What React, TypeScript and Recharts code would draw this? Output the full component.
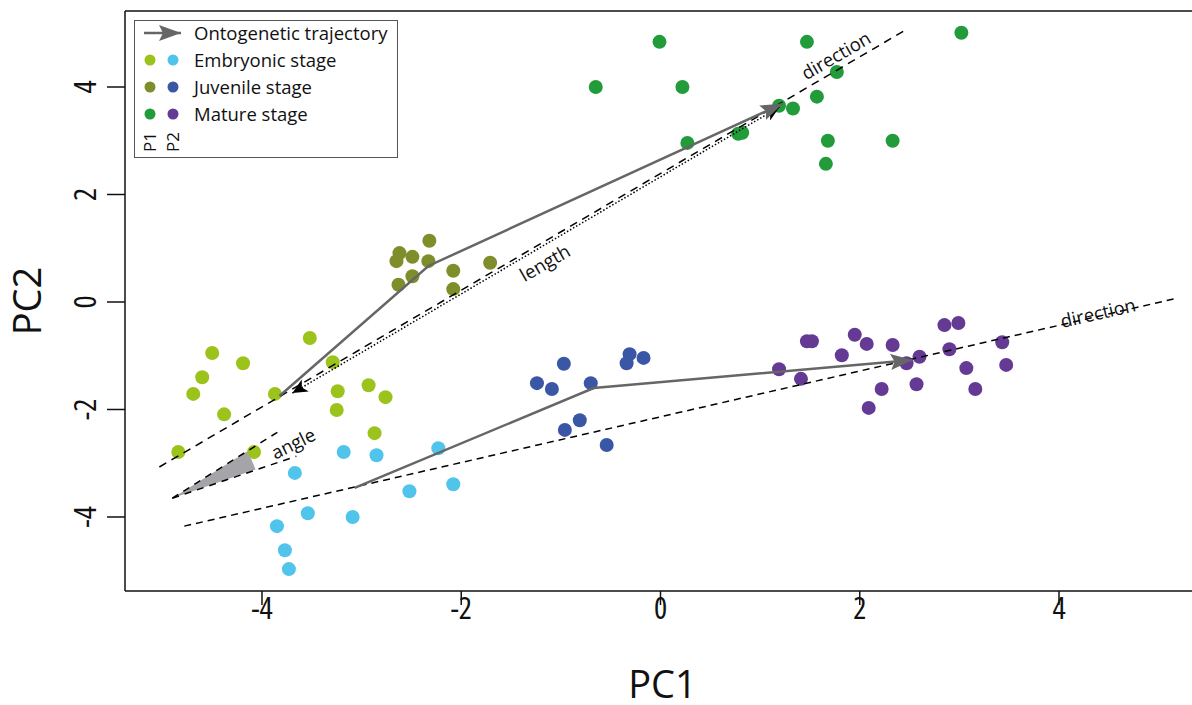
import React from 'react';
import { ScatterChart, Scatter, XAxis, YAxis, ReferenceLine, Legend } from 'recharts';

type Pt = { x: number; y: number };

const X_DOMAIN: [number, number] = [-5.375, 5.335];
const Y_DOMAIN: [number, number] = [-5.377, 5.414];
const X_TICKS = [-4, -2, 0, 2, 4];
const Y_TICKS = [-4, -2, 0, 2, 4];

// population 1
const embryonicP1: Pt[] = [
  { x: -4.50, y: -0.95 }, { x: -4.19, y: -1.14 }, { x: -4.60, y: -1.40 }, { x: -4.69, y: -1.71 },
  { x: -4.38, y: -2.09 }, { x: -4.84, y: -2.79 }, { x: -3.52, y: -0.67 }, { x: -3.29, y: -1.12 },
  { x: -3.87, y: -1.71 }, { x: -3.24, y: -1.66 }, { x: -2.93, y: -1.55 }, { x: -2.76, y: -1.77 },
  { x: -3.25, y: -2.01 }, { x: -2.87, y: -2.44 }, { x: -4.08, y: -2.79 },
];
const juvenileP1: Pt[] = [
  { x: -2.32, y: 1.14 }, { x: -2.62, y: 0.91 }, { x: -2.49, y: 0.84 }, { x: -2.65, y: 0.76 },
  { x: -2.33, y: 0.76 }, { x: -2.08, y: 0.58 }, { x: -1.71, y: 0.73 }, { x: -2.49, y: 0.48 },
  { x: -2.63, y: 0.32 }, { x: -2.08, y: 0.24 },
];
const matureP1: Pt[] = [
  { x: -0.01, y: 4.84 }, { x: 0.22, y: 4.00 }, { x: -0.65, y: 4.00 }, { x: 1.47, y: 4.84 },
  { x: 3.02, y: 5.01 }, { x: 1.77, y: 4.28 }, { x: 1.57, y: 3.82 }, { x: 1.33, y: 3.60 },
  { x: 1.19, y: 3.65 }, { x: 0.27, y: 2.96 }, { x: 0.78, y: 3.13 }, { x: 0.82, y: 3.15 },
  { x: 1.68, y: 3.00 }, { x: 2.33, y: 3.00 }, { x: 1.66, y: 2.57 },
];

// population 2
const embryonicP2: Pt[] = [
  { x: -3.18, y: -2.79 }, { x: -2.85, y: -2.85 }, { x: -2.23, y: -2.72 }, { x: -3.67, y: -3.18 },
  { x: -2.52, y: -3.52 }, { x: -2.08, y: -3.39 }, { x: -3.54, y: -3.93 }, { x: -3.09, y: -4.00 },
  { x: -3.85, y: -4.17 }, { x: -3.77, y: -4.62 }, { x: -3.73, y: -4.97 },
];
const juvenileP2: Pt[] = [
  { x: -0.97, y: -1.15 }, { x: -0.31, y: -0.97 }, { x: -0.17, y: -1.04 }, { x: -0.34, y: -1.14 },
  { x: -1.24, y: -1.51 }, { x: -1.09, y: -1.62 }, { x: -0.70, y: -1.51 }, { x: -0.81, y: -2.20 },
  { x: -0.96, y: -2.38 }, { x: -0.54, y: -2.66 },
];
const matureP2: Pt[] = [
  { x: 1.19, y: -1.25 }, { x: 1.41, y: -1.43 }, { x: 1.47, y: -0.73 }, { x: 1.52, y: -0.73 },
  { x: 1.82, y: -0.99 }, { x: 1.95, y: -0.61 }, { x: 2.07, y: -0.78 }, { x: 2.33, y: -0.80 },
  { x: 2.22, y: -1.62 }, { x: 2.09, y: -1.97 }, { x: 2.47, y: -1.14 }, { x: 2.60, y: -1.02 },
  { x: 2.57, y: -1.53 }, { x: 2.85, y: -0.43 }, { x: 2.99, y: -0.39 }, { x: 2.90, y: -0.88 },
  { x: 3.07, y: -1.23 }, { x: 3.16, y: -1.62 }, { x: 3.43, y: -0.75 }, { x: 3.47, y: -1.17 },
];

// trajectories and geometry annotations
const trajectoryP1: Pt[] = [{ x: -3.825, y: -1.75 }, { x: -2.33, y: 0.67 }, { x: 1.225, y: 3.69 }];
const trajectoryP2: Pt[] = [{ x: -3.07, y: -3.46 }, { x: -0.67, y: -1.60 }, { x: 2.53, y: -1.08 }];
const directionP1: Pt[] = [{ x: -5.03, y: -3.07 }, { x: 2.45, y: 5.05 }];
const directionP2: Pt[] = [{ x: -4.78, y: -4.17 }, { x: 5.16, y: 0.06 }];
const lengthP1: Pt[] = [{ x: -3.695, y: -1.695 }, { x: 1.195, y: 3.63 }];
const angleApex: Pt[] = [{ x: -4.90, y: -3.65 }];
const angleArmP1: Pt[] = [{ x: -4.90, y: -3.65 }, { x: -3.795, y: -2.365 }];
const angleArmP2: Pt[] = [{ x: -4.90, y: -3.65 }, { x: -3.655, y: -2.87 }];

const annotations = [
  { x: -1.165, y: 0.74, text: 'length', angle: -30 },
  { x: 1.757, y: 4.60, text: 'direction', angle: -30 },
  { x: 4.39, y: -0.19, text: 'direction', angle: -13 },
  { x: -3.69, y: -2.62, text: 'angle', angle: -26 },
];

const stages = ['Embryonic stage', 'Juvenile stage', 'Mature stage'];
const colorsP1 = ['#9cc31b', '#7f8e2b', '#229b3a'];
const colorsP2 = ['#50c4eb', '#3a57a6', '#643a94'];

const AXIS_FONT = '"Open Sans", sans-serif';
const TEXT_FONT = '"Open Sans", sans-serif';
const GRAY = '#666666';

const dot = (color: string) => (p: any) => <circle cx={p.cx} cy={p.cy} r={7} fill={color} />;
const noShape = () => <g />;

const WedgeShape = (p: any) => {
  const r = 88;
  const a1 = (32 * Math.PI) / 180;
  const a2 = (19 * Math.PI) / 180;
  const d = `M${p.cx},${p.cy} L${p.cx + r * Math.cos(a1)},${p.cy - r * Math.sin(a1)} A${r},${r} 0 0 1 ${p.cx + r * Math.cos(a2)},${p.cy - r * Math.sin(a2)} Z`;
  return <path d={d} fill="#a5a5a9" />;
};

const AnnotationShape = (p: any) => {
  const e = p.payload || p;
  return (
    <text x={p.cx} y={p.cy} transform={`rotate(${e.angle} ${p.cx} ${p.cy})`} textAnchor="middle"
      dominantBaseline="central" fontSize={18.5} fontFamily={TEXT_FONT} fill="#111">{e.text}</text>
  );
};

const XTick = (p: any) => (
  <text x={p.x} y={p.y + 14} textAnchor="middle" fontSize={31} fontFamily={AXIS_FONT}
    style={{ fontStretch: 'semi-condensed' }} fill="#111">{p.payload.value}</text>
);

const YTick = (p: any) => (
  <text x={p.x - 11} y={p.y} transform={`rotate(-90 ${p.x - 11} ${p.y})`} textAnchor="middle"
    fontSize={31} fontFamily={AXIS_FONT} style={{ fontStretch: 'semi-condensed' }} fill="#111">{p.payload.value}</text>
);

const XTitle = (p: any) => {
  const vb = p.viewBox || { x: 125, y: 591, width: 1067, height: 114 };
  return <text x={vb.x + vb.width / 2 + 4} y={vb.y + 107} textAnchor="middle" fontSize={38} fontFamily={AXIS_FONT}
    fill="#111">PC1</text>;
};

const YTitle = (p: any) => {
  const vb = p.viewBox || { x: 0, y: 11, width: 125, height: 580 };
  const cx = vb.x + 41;
  const cy = vb.y + vb.height / 2;
  return <text x={cx} y={cy} transform={`rotate(-90 ${cx} ${cy})`} textAnchor="middle" fontSize={38} fontFamily={AXIS_FONT}
    fill="#111">PC2</text>;
};

const LegendBox = () => (
  <svg width={265} height={139} style={{ display: 'block' }}>
    <rect x={0.5} y={0.5} width={263} height={137} fill="#fff" stroke="#555" />
    <line x1={10} y1={13} x2={47} y2={13} stroke={GRAY} strokeWidth={2.5} markerEnd="url(#arrowGray)" />
    <text x={60} y={19.5} fontSize={18.5} fontFamily={TEXT_FONT} fill="#111">Ontogenetic trajectory</text>
    {stages.map((s, i) => (
      <g key={s}>
        <circle cx={16} cy={40 + i * 27} r={5.5} fill={colorsP1[i]} />
        <circle cx={39} cy={40 + i * 27} r={5.5} fill={colorsP2[i]} />
        <text x={60} y={46.5 + i * 27} fontSize={18.5} fontFamily={TEXT_FONT} fill="#111">{s}</text>
      </g>
    ))}
    {['P1', 'P2'].map((t, i) => (
      <text key={t} x={22 + i * 23} y={122} transform={`rotate(-90 ${22 + i * 23} 122)`} textAnchor="middle"
        fontSize={17} fontFamily={TEXT_FONT} fill="#111">{t}</text>
    ))}
  </svg>
);

export default function App() {
  return (
    <div style={{ position: 'absolute', left: 0, top: 0 }}>
      <svg width={0} height={0} style={{ position: 'absolute' }}>
        <defs>
          <marker id="arrowGray" markerUnits="userSpaceOnUse" markerWidth={24} markerHeight={18} refX={22} refY={9} orient="auto">
            <path d="M0,1 L22,9 L0,17 L4,9 Z" fill={GRAY} />
          </marker>
          <marker id="arrowBlack" markerUnits="userSpaceOnUse" markerWidth={16} markerHeight={14} refX={15} refY={7} orient="auto-start-reverse">
            <path d="M0,0 L15,7 L0,14 L4,7 Z" fill="#000" />
          </marker>
        </defs>
      </svg>
      <ScatterChart width={1192} height={705} margin={{ top: 11, right: 0, bottom: 0, left: 0 }}>
        <XAxis type="number" dataKey="x" domain={X_DOMAIN} ticks={X_TICKS} allowDataOverflow height={114}
          tickSize={14} tickMargin={0} tick={<XTick />} axisLine={{ stroke: '#111', strokeWidth: 1.5 }}
          tickLine={{ stroke: '#111', strokeWidth: 1.5 }} label={<XTitle />} />
        <YAxis type="number" dataKey="y" domain={Y_DOMAIN} ticks={Y_TICKS} allowDataOverflow width={125}
          tickSize={18} tickMargin={0} tick={<YTick />} axisLine={{ stroke: '#111', strokeWidth: 1.5 }}
          tickLine={{ stroke: '#111', strokeWidth: 1.5 }} label={<YTitle />} />
        <ReferenceLine y={Y_DOMAIN[1]} stroke="#111" strokeWidth={1.5} />
        <Legend layout="horizontal" verticalAlign="middle" align="center" content={() => <LegendBox />}
          wrapperStyle={{ left: 134, top: 20, width: 265, height: 139 }} />

        <Scatter data={embryonicP1} shape={dot(colorsP1[0])} isAnimationActive={false} />
        <Scatter data={juvenileP1} shape={dot(colorsP1[1])} isAnimationActive={false} />
        <Scatter data={matureP1} shape={dot(colorsP1[2])} isAnimationActive={false} />
        <Scatter data={embryonicP2} shape={dot(colorsP2[0])} isAnimationActive={false} />
        <Scatter data={juvenileP2} shape={dot(colorsP2[1])} isAnimationActive={false} />
        <Scatter data={matureP2} shape={dot(colorsP2[2])} isAnimationActive={false} />

        <Scatter data={angleApex} shape={WedgeShape} isAnimationActive={false} />
        <Scatter data={angleArmP1} shape={noShape} line={{ stroke: '#000', strokeWidth: 1.5, strokeDasharray: '7 6' }} isAnimationActive={false} />
        <Scatter data={angleArmP2} shape={noShape} line={{ stroke: '#000', strokeWidth: 1.5, strokeDasharray: '7 6' }} isAnimationActive={false} />
        <Scatter data={directionP1} shape={noShape} line={{ stroke: '#000', strokeWidth: 1.5, strokeDasharray: '8 6' }} isAnimationActive={false} />
        <Scatter data={directionP2} shape={noShape} line={{ stroke: '#000', strokeWidth: 1.5, strokeDasharray: '7 5' }} isAnimationActive={false} />
        <Scatter data={lengthP1} shape={noShape} line={{ stroke: '#000', strokeWidth: 1.5, strokeDasharray: '1.5 2', markerEnd: 'url(#arrowBlack)', markerStart: 'url(#arrowBlack)' }} isAnimationActive={false} />
        <Scatter data={trajectoryP1} shape={noShape} line={{ stroke: GRAY, strokeWidth: 2.5, markerEnd: 'url(#arrowGray)' }} isAnimationActive={false} />
        <Scatter data={trajectoryP2} shape={noShape} line={{ stroke: GRAY, strokeWidth: 2.5, markerEnd: 'url(#arrowGray)' }} isAnimationActive={false} />
        <Scatter data={annotations} shape={AnnotationShape} isAnimationActive={false} />
      </ScatterChart>
    </div>
  );
}
